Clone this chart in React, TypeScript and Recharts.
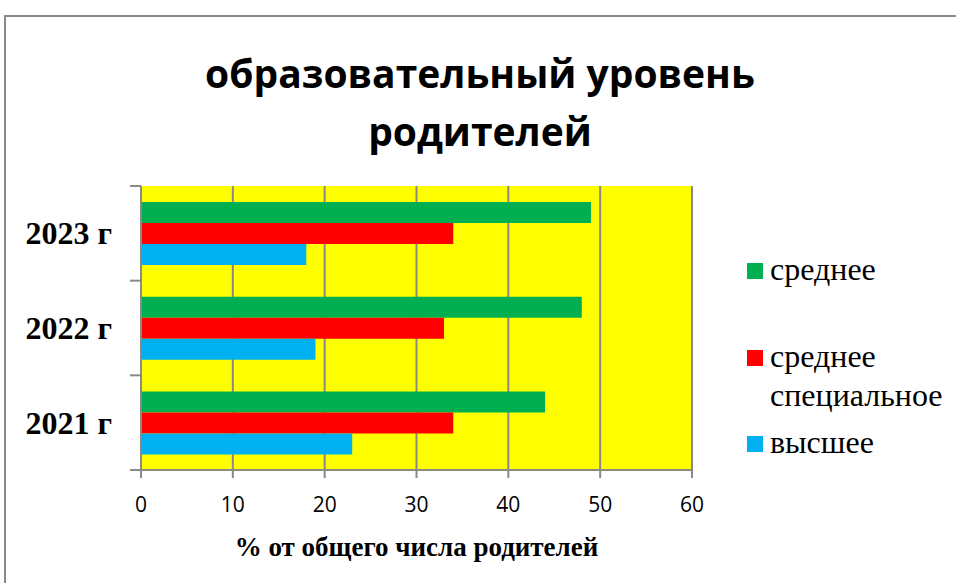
import { BarChart, Bar, XAxis, YAxis, CartesianGrid } from "recharts";

const years = ["2023 г", "2022 г", "2021 г"];
const secondary = [49, 48, 44];
const vocational = [34, 33, 34];
const higher = [18, 19, 23];
const xTicks = [0, 10, 20, 30, 40, 50, 60];

const titleLines = ["образовательный уровень", "родителей"];
const seriesNames = ["среднее", "среднее специальное", "высшее"];
const seriesKeys = ["secondary", "vocational", "higher"];
const seriesColors = ["#00B050", "#FF0000", "#00B0F0"];

const data = years.map((year, i) => ({
  year,
  secondary: secondary[i],
  vocational: vocational[i],
  higher: higher[i],
}));

const W = 956;
const H = 583;
const margin = { top: 186, right: 264, bottom: 53, left: 0 };
const band = (H - margin.top - margin.bottom - 60) / years.length;
const gray = "#898989";

function YearTick(props: any) {
  const { x, y, payload, index } = props;
  const axisX = x + 29;
  return (
    <g>
      <line x1={axisX - 11} x2={axisX} y1={y - band / 2} y2={y - band / 2} stroke={gray} strokeWidth={2} />
      {index === years.length - 1 && (
        <line x1={axisX - 11} x2={axisX} y1={y + band / 2} y2={y + band / 2} stroke={gray} strokeWidth={2} />
      )}
      <text
        x={x}
        y={y + 11}
        textAnchor="end"
        fontFamily="Liberation Serif"
        fontWeight="bold"
        fontSize={32}
        fill="#000"
      >
        {payload.value}
      </text>
    </g>
  );
}

export default function App() {
  return (
    <div style={{ position: "fixed", left: 0, top: 0, width: W, height: H, overflow: "hidden", background: "#fff" }}>
      <div
        style={{
          position: "absolute",
          left: 4,
          top: 15,
          width: 1000,
          height: 700,
          border: `2px solid ${gray}`,
        }}
      />
      <svg width={W} height={170} style={{ position: "absolute", left: 0, top: 0 }}>
        {titleLines.map((line, i) => (
          <text
            key={i}
            x={480}
            y={88 + i * 58}
            textAnchor="middle"
            fontFamily="Open Sans"
            fontWeight="bold"
            fontSize={39}
            fill="#000"
          >
            {line}
          </text>
        ))}
      </svg>

      <div style={{ position: "absolute", left: 0, top: 0 }}>
        <BarChart
          width={W}
          height={H}
          data={data}
          layout="vertical"
          margin={margin}
          barGap={0}
          barCategoryGap="17%"
        >
          <CartesianGrid horizontal={false} vertical stroke={gray} strokeWidth={2} fill="#FFFF00" />
          <XAxis
            type="number"
            domain={[0, 60]}
            ticks={xTicks}
            height={60}
            axisLine={{ stroke: gray, strokeWidth: 2 }}
            tickLine={{ stroke: gray, strokeWidth: 2 }}
            tickSize={8}
            tickMargin={19}
            tick={{ fill: "#000", fontFamily: "Open Sans", fontSize: 21 }}
            label={{
              value: "% от общего числа родителей",
              position: "bottom",
              offset: 7,
              style: { fill: "#000", fontFamily: "Liberation Serif", fontWeight: "bold", fontSize: 27 },
            }}
          />
          <YAxis
            type="category"
            dataKey="year"
            width={141}
            axisLine={{ stroke: gray, strokeWidth: 2 }}
            tickLine={false}
            tickSize={0}
            tickMargin={29}
            tick={<YearTick />}
          />
          {seriesKeys.map((k, i) => (
            <Bar key={k} dataKey={k} name={seriesNames[i]} fill={seriesColors[i]} isAnimationActive={false} />
          ))}
        </BarChart>
      </div>

      <div style={{ position: "absolute", left: 747, top: 0, fontFamily: "Liberation Serif", fontSize: 32, color: "#000" }}>
        {seriesNames.map((name, i) => {
          const tops = [263, 350, 436];
          const words = name.split(" ");
          return (
            <div key={name} style={{ position: "absolute", top: tops[i], left: 0, width: 200 }}>
              <div style={{ position: "absolute", left: 0, top: 0, width: 16, height: 16, background: seriesColors[i] }} />
              <div style={{ position: "absolute", left: 23, top: -13, lineHeight: "39px", whiteSpace: "nowrap" }}>
                {words.map((w, j) => (
                  <div key={j}>{w}</div>
                ))}
              </div>
            </div>
          );
        })}
      </div>
    </div>
  );
}
